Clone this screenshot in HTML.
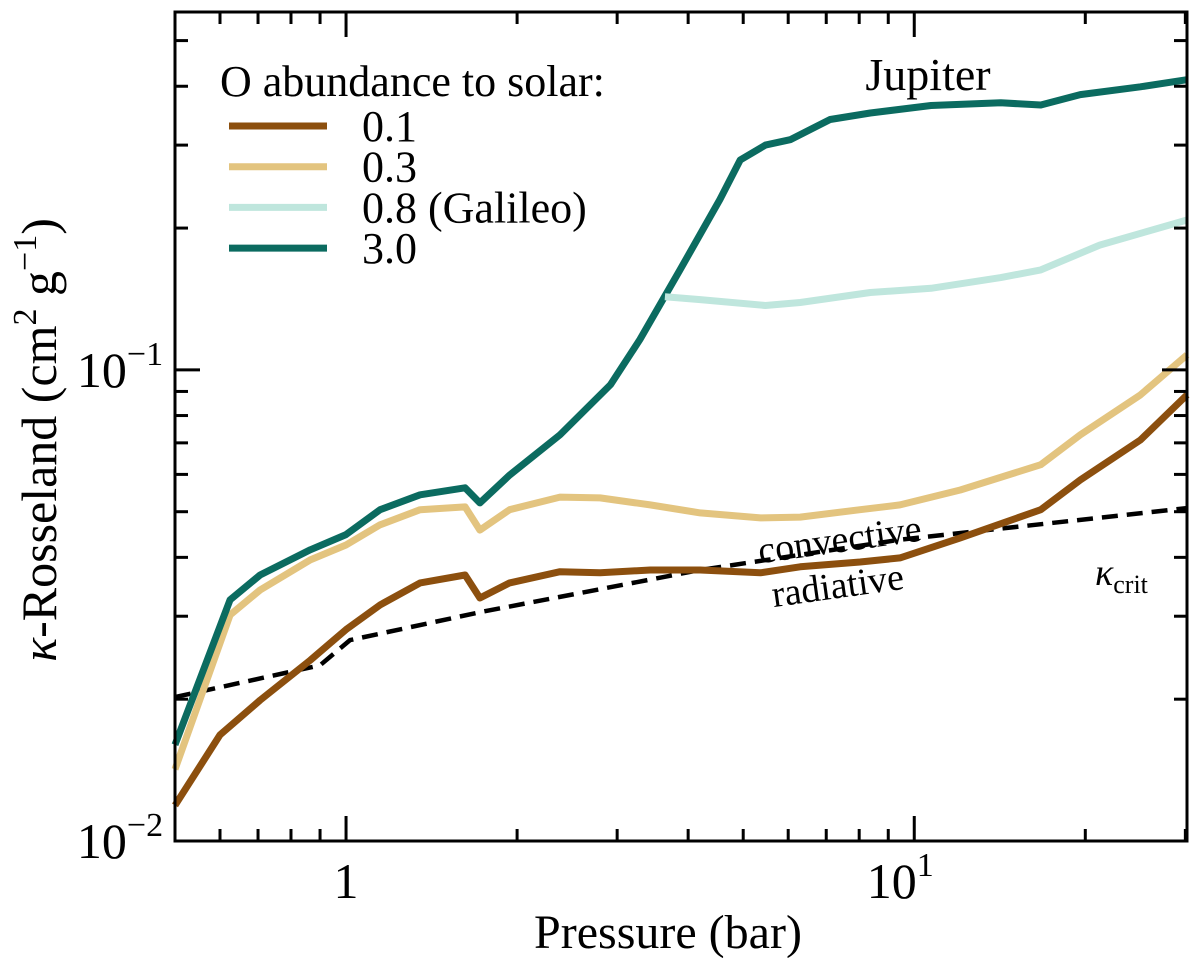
<!DOCTYPE html>
<html><head><meta charset="utf-8"><style>
body{margin:0;background:#fff}
svg text{font-family:"Liberation Serif",serif;fill:#000}
</style></head><body>
<svg id="chart" width="1200" height="958" xmlns="http://www.w3.org/2000/svg"></svg>
<script>
const pressure3 = [0.5,0.625,0.706,0.865,1.0,1.148,1.35,1.62,1.72,1.94,2.38,2.92,3.29,3.87,4.55,4.94,5.47,6.05,7.11,8.37,10.7,14.2,16.7,19.6,25.0,30.2];
const kappa3 = [0.016,0.0325,0.0367,0.0415,0.0447,0.0505,0.0543,0.0562,0.0522,0.0598,0.0728,0.093,0.116,0.163,0.230,0.279,0.300,0.308,0.340,0.351,0.364,0.369,0.365,0.384,0.399,0.413];
const pressure08 = [3.64,4.20,5.47,6.30,8.37,10.7,14.2,16.7,21.2,30.2];
const kappa08 = [0.143,0.141,0.137,0.139,0.146,0.149,0.157,0.163,0.184,0.208];
const pressure03 = [0.5,0.625,0.706,0.865,1.0,1.148,1.35,1.62,1.72,1.94,2.38,2.80,3.43,4.20,5.36,6.30,8.03,9.44,12.05,16.7,19.6,25.0,30.2];
const kappa03 = [0.0142,0.0302,0.0341,0.0395,0.0425,0.0469,0.0505,0.0512,0.0457,0.0505,0.0537,0.0535,0.0517,0.0497,0.0485,0.0487,0.0505,0.0517,0.0556,0.0629,0.0728,0.0885,0.1076];
const pressure01 = [0.5,0.6,0.706,0.865,1.0,1.148,1.35,1.62,1.72,1.94,2.38,2.80,3.43,4.20,5.36,6.30,8.03,9.44,12.05,16.7,19.6,25.0,30.2];
const kappa01 = [0.0119,0.0168,0.0199,0.0242,0.0281,0.0317,0.0353,0.0367,0.0328,0.0353,0.0373,0.0371,0.0376,0.0376,0.0371,0.0382,0.0391,0.0399,0.044,0.0505,0.0584,0.071,0.0885];
const pressureCrit = [0.5,0.9,1.016,1.72,4.20,9.44,30.2];
const kappaCrit = [0.0202,0.0236,0.0267,0.0306,0.0376,0.0436,0.0509];
const legendLabels = ["0.1","0.3","0.8 (Galileo)","3.0"];
const legendColors = ["#8c4f0e","#e3c47f","#bfe6dd","#0b6b60"];

const L=175,R=1187,T=12,B=841;
const xMin=Math.log10(0.5), xMax=Math.log10(30.2);
const yMin=-2, yMax=Math.log10(0.575);
const X=v=>L+(Math.log10(v)-xMin)/(xMax-xMin)*(R-L);
const Y=v=>B-(Math.log10(v)-yMin)/(yMax-yMin)*(B-T);
const svg=document.getElementById('chart');
const NS='http://www.w3.org/2000/svg';
function mk(tag,attrs,parent){const e=document.createElementNS(NS,tag);for(const k in attrs)e.setAttribute(k,attrs[k]);(parent||svg).appendChild(e);return e;}

function line(xs,ys,color,name,dash){
  const d=xs.map((x,i)=>(i?'L':'M')+X(x).toFixed(1)+','+Y(ys[i]).toFixed(1)).join(' ');
  const p=mk('path',{d:d,fill:'none',stroke:color,'stroke-width':7,'stroke-linejoin':'round'});
  if(dash){p.setAttribute('stroke-dasharray',dash);p.setAttribute('stroke-width',4.5);}
  
  
}
line(pressureCrit,kappaCrit,'#000','kappa-crit-line','16,9');
line(pressure01,kappa01,legendColors[0],'series-0.1');
line(pressure03,kappa03,legendColors[1],'series-0.3');
line(pressure3,kappa3,legendColors[3],'series-3.0');
line(pressure08,kappa08,legendColors[2],'series-0.8');

const fr=mk('rect',{x:L,y:T,width:R-L,height:B-T,fill:'none',stroke:'#000','stroke-width':3});


const xMajor=[1,10], xMinor=[0.6,0.7,0.8,0.9,2,3,4,5,6,7,8,9,20,30];
const yMajor=[0.01,0.1], yMinor=[0.02,0.03,0.04,0.05,0.06,0.07,0.08,0.09,0.2,0.3,0.4,0.5];
xMajor.forEach(v=>{const x=X(v);mk('line',{x1:x,x2:x,y1:B,y2:B-25,stroke:'#000','stroke-width':3});mk('line',{x1:x,x2:x,y1:T,y2:T+25,stroke:'#000','stroke-width':3});});
xMinor.forEach(v=>{const x=X(v);if(x>R)return;mk('line',{x1:x,x2:x,y1:B,y2:B-12,stroke:'#000','stroke-width':3});mk('line',{x1:x,x2:x,y1:T,y2:T+12,stroke:'#000','stroke-width':3});});
yMajor.forEach(v=>{const y=Y(v);mk('line',{x1:L,x2:L+25,y1:y,y2:y,stroke:'#000','stroke-width':3});mk('line',{x1:R,x2:R-25,y1:y,y2:y,stroke:'#000','stroke-width':3});});
yMinor.forEach(v=>{const y=Y(v);mk('line',{x1:L,x2:L+13,y1:y,y2:y,stroke:'#000','stroke-width':3});mk('line',{x1:R,x2:R-13,y1:y,y2:y,stroke:'#000','stroke-width':3});});

function txt(x,y,s,size,name,extra){const t=mk('text',Object.assign({x:x,y:y,'font-size':size},extra||{}));t.innerHTML=s;return t;}
txt(X(1),898,'1',50,'x-tick-1',{'text-anchor':'middle'});
txt(X(10)-14,898,'10<tspan font-size="34" dy="-22">1</tspan>',50,'x-tick-10',{'text-anchor':'middle'});
txt(120,Y(0.01)+17,'10<tspan font-size="34" dy="-22">−2</tspan>',50,'y-tick-0.01',{'text-anchor':'middle'});
txt(120,Y(0.1)+17,'10<tspan font-size="34" dy="-22">−1</tspan>',50,'y-tick-0.1',{'text-anchor':'middle'});
txt(668,948,'Pressure (bar)',48,'x-axis-title',{'text-anchor':'middle'});
txt(0,0,'<tspan font-style="italic">κ</tspan>-Rosseland (cm<tspan font-size="34" dy="-20">2</tspan><tspan dy="20"> g</tspan><tspan font-size="34" dy="-20">−1</tspan><tspan dy="20">)</tspan>',50,'y-axis-title',{'text-anchor':'middle',transform:'translate(56,440) rotate(-90)'});
txt(928,90,'Jupiter',46,'planet-label',{'text-anchor':'middle'});
txt(840,552,'convective',38,'convective-label',{'text-anchor':'middle',transform:'rotate(-8 840 542)'});
txt(838,598,'radiative',38,'radiative-label',{'text-anchor':'middle',transform:'rotate(-8 838 588)'});
txt(1095,585,'<tspan font-style="italic">κ</tspan><tspan font-size="26" dy="8">crit</tspan>',38,'kappa-crit-label');
txt(220,96,'O abundance to solar:',44,'legend-title');
legendLabels.forEach((s,i)=>{const y=126+i*40.7;
 const l=mk('line',{x1:229,x2:327,y1:y,y2:y,stroke:legendColors[i],'stroke-width':7});
 
 
 txt(362,y+15,s,44,'legend-entry');});
</script>
</body></html>
